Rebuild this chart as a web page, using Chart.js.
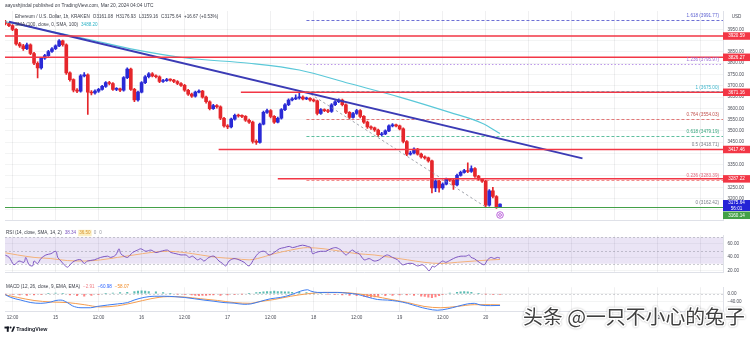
<!DOCTYPE html>
<html lang="en">
<head>
<meta charset="utf-8">
<title>Ethereum / U.S. Dollar, 1h, KRAKEN</title>
<script src="https://cdn.jsdelivr.net/npm/chart.js@4.4.1/dist/chart.umd.min.js"></script>
<style>
  html, body { margin: 0; padding: 0; background: #ffffff; }
  #stage { position: relative; width: 750px; height: 337px; overflow: hidden; background: #ffffff; }
  #stage canvas { position: absolute; left: 0; }
</style>
</head>
<body>
<div id="stage">
  <canvas id="pricePane" width="750" height="228" style="top:0px"></canvas>
  <canvas id="rsiPane" width="750" height="52" style="top:228px"></canvas>
  <canvas id="macdPane" width="750" height="57" style="top:280px"></canvas>
</div>
<script>
// ---------- hourly candles (hour index counted from Mar 14 00:00 UTC) ----------
const candleStartHour = 10;
const opens = [3984,3976,3967,3950,3886,3877,3864,3882,3843,3800,
  3779,3822,3834,3852,3864,3877,3899,3882,3757,3727,
  3680,3676,3744,3749,3672,3668,3676,3684,3697,3714,
  3710,3684,3686,3680,3736,3774,3684,3637,3672,3714,
  3740,3753,3744,3740,3719,3723,3727,3725,3719,3710,
  3702,3680,3663,3654,3672,3676,3650,3629,3599,3612,
  3607,3556,3522,3517,3552,3569,3566,3564,3547,3539,
  3453,3449,3530,3582,3590,3564,3539,3556,3594,3616,
  3637,3642,3646,3650,3642,3644,3637,3633,3577,3594,
  3590,3586,3616,3629,3637,3616,3582,3560,3577,3590,
  3564,3539,3517,3513,3504,3483,3487,3500,3522,3526,
  3522,3509,3453,3397,3402,3419,3397,3384,3380,3367,
  3247,3277,3247,3264,3286,3282,3260,3303,3316,3324,
  3320,3333,3299,3286,3277,3170,3234,3209,3161.08];
const highs = [3990,3980,3971,3954,3893,3884,3889,3886,3848,3806,
  3826,3840,3857,3869,3882,3905,3903,3886,3762,3731,
  3688,3750,3758,3753,3679,3682,3689,3702,3719,3720,
  3714,3692,3690,3741,3780,3778,3689,3677,3719,3745,
  3759,3758,3749,3744,3729,3733,3731,3729,3723,3714,
  3706,3684,3668,3677,3682,3680,3654,3633,3618,3617,
  3611,3560,3528,3557,3575,3574,3571,3568,3552,3543,
  3460,3535,3588,3597,3594,3568,3561,3599,3621,3642,
  3648,3660,3668,3655,3650,3648,3642,3637,3599,3598,
  3595,3621,3634,3642,3641,3620,3586,3582,3595,3594,
  3568,3543,3522,3517,3508,3494,3505,3527,3532,3530,
  3526,3513,3457,3409,3425,3423,3401,3389,3384,3371,
  3283,3281,3270,3291,3290,3286,3308,3322,3330,3358,
  3345,3337,3303,3290,3281,3240,3250,3213,3176.93];
const lows = [3970,3962,3944,3880,3870,3857,3860,3838,3794,3735,
  3774,3817,3830,3848,3860,3873,3876,3750,3720,3673,
  3669,3672,3739,3573,3660,3663,3671,3680,3693,3704,
  3679,3678,3674,3676,3731,3679,3630,3632,3668,3709,
  3735,3739,3735,3714,3715,3719,3720,3714,3705,3697,
  3675,3657,3648,3650,3668,3645,3623,3593,3595,3601,
  3550,3516,3510,3513,3548,3561,3559,3542,3533,3445,
  3440,3445,3526,3577,3558,3533,3535,3552,3590,3612,
  3633,3638,3641,3637,3638,3632,3628,3571,3573,3585,
  3581,3582,3612,3625,3611,3576,3554,3556,3573,3558,
  3533,3511,3507,3498,3477,3478,3483,3496,3518,3517,
  3504,3447,3390,3392,3398,3392,3379,3375,3361,3225,
  3230,3228,3240,3260,3276,3240,3256,3299,3312,3315,
  3316,3294,3281,3271,3162.42,3166,3203,3156.5,3159.16];
const closes = [3976,3967,3950,3886,3877,3864,3882,3843,3800,3779,
  3822,3834,3852,3864,3877,3899,3882,3757,3727,3680,
  3676,3744,3749,3672,3668,3676,3684,3697,3714,3710,
  3684,3686,3680,3736,3774,3684,3637,3672,3714,3740,
  3753,3744,3740,3719,3723,3727,3725,3719,3710,3702,
  3680,3663,3654,3672,3676,3650,3629,3599,3612,3607,
  3556,3522,3517,3552,3569,3566,3564,3547,3539,3453,
  3449,3530,3582,3590,3564,3539,3556,3594,3616,3637,
  3642,3646,3650,3642,3644,3637,3633,3577,3594,3590,
  3586,3616,3629,3637,3616,3582,3560,3577,3590,3564,
  3539,3517,3513,3504,3483,3487,3500,3522,3526,3522,
  3509,3453,3397,3402,3419,3397,3384,3380,3367,3247,
  3277,3247,3264,3286,3282,3260,3303,3316,3324,3320,
  3333,3299,3286,3277,3170,3234,3209,3158.97,3175.64];
const changeText = '+16.67 (+0.53%)';

// ---------- time axis ----------
const timeTicks  = [12,24,36,48,60,72,84,96,108,120,132,144,156,168,180,192,204];
const timeLabels = ['12:00','15','12:00','16','12:00','17','12:00','18','12:00','19','12:00','20','12:00','21','12:00','22','12:00'];

// ---------- price axis ----------
const priceTickValues = [3150,3200,3250,3300,3350,3400,3450,3500,3550,3600,3650,3700,3750,3800,3850,3900,3950];

// ---------- SMA 100 ----------
const smaHours  = [10, 24, 34, 45, 61, 78, 92, 106, 120, 134, 143, 148];
const smaValues = [3984, 3937, 3903, 3864, 3822, 3800, 3770, 3710, 3650, 3582, 3534, 3488.20];

// ---------- drawings ----------
const trendHours  = [11, 171];
const trendPrices = [3984, 3378];
const fibRatios = ['0', '0.236', '0.5', '0.618', '0.764', '1', '1.236', '1.618'];
const fibPrices = [3162.42, 3283.39, 3418.71, 3479.19, 3554.03, 3675.00, 3795.97, 3991.77];
const fibStartHour = 94;
const fibAnchorHours = [94, 144];
const levelPrices     = [3920.59, 3826.27, 3671.16, 3417.46, 3287.22];
const levelStartHours = [9.9, 9.9, 75.7, 69.5, 86];
const supportPrice = 3160.14;
const countdownText = '56:01';
const markerHour = 148;
const markerPrice = 3127;

// ---------- RSI (14) and its SMA ----------
const rsiHours = [10,11.1,12.4,13.8,15.2,15.7,16.6,17.6,18.0,19.0,
  19.9,21.3,22.7,24.1,24.6,25.5,26.4,27.3,27.8,28.7,
  30.1,31.1,32.0,32.9,34.8,36.6,38.5,39.4,40.8,41.7,
  42.2,43.1,44.1,45.5,46.9,47.8,49.2,50.6,52.0,53.4,
  55.2,56.2,57.6,59.0,60.4,61.3,62.2,63.6,64.5,65.4,
  66.8,68.2,69.6,70.6,71.5,72.4,73.8,75.2,76.6,78.0,
  79.4,80.8,82.2,83.6,85.0,86.4,87.8,89.2,90.1,91.5,
  92.9,94.3,95.2,95.7,96.6,98.0,99.4,100.8,102.2,103.6,
  105.0,105.9,106.8,107.8,108.7,110.1,111.5,112.9,114.3,115.7,
  116.6,118.0,119.4,120.8,122.2,123.6,125.0,126.3,127.3,128.2,
  129.2,129.6,131.0,132.0,132.9,134.3,135.7,137.1,138.5,139.4,
  139.9,140.8,142.2,143.6,144.5,145.5,146.4,147.3,148];
const rsiValues = [43,39.6,28.5,34.1,32.2,39.6,28.5,26.7,34.1,30.4,
  37.8,43.3,45.2,48.9,39.6,34.1,28.5,24.8,26.7,32.2,
  35.9,35.9,30.4,34.1,35.9,39.6,41.5,39.6,43.3,52.6,
  45.2,41.5,39.6,47,50.7,52.6,48.9,50.7,47,48.9,
  50.7,47,45.2,43.3,43.3,39.6,41.5,35.9,37.8,34.1,
  39.6,41.5,34.1,30.4,26.7,34.1,37.8,35.9,32.2,26.7,
  37.8,47,48.9,43.3,47,52.6,54.4,56.3,54.4,56.3,
  58.1,56.3,54.4,45.2,47,48.9,48.9,52.6,54.4,50.7,
  43.3,47,50.7,47,45.2,35.9,37.8,34.1,35.9,41.5,
  43.3,39.6,35.9,28.5,30.4,30.4,26.7,28.5,24.8,19.3,
  26.7,24.8,30.4,34.1,32.2,35.9,39.6,41.5,41.5,43.3,
  39.6,37.8,32.2,28.5,35.9,39.6,37.8,39.6,38.34];
const rsiMaHours  = [10,13.4,18.0,22.7,27.3,32.0,36.6,41.3,45.9,50.6,
  55.2,59.9,64.5,69.2,73.8,78.0,80.3,85.0,89.6,94.3,
  98.9,103.6,108.2,112.9,117.6,122.2,126.8,131.5,136.1,140.8,145.4,148];
const rsiMaValues = [46.5,43.3,39.6,37.8,34.8,34.1,35.9,39.6,43.3,47,
  48.9,47,43.3,39.6,37.8,35.9,37.8,45.2,50.7,54.4,
  52.6,48.9,45.2,43.3,39.6,35.9,32.2,30.4,32.2,34.1,35.9,36.5];
const rsiLevels = [70, 50, 30];
const rsiTickValues = [20, 40, 60];

// ---------- MACD (12, 26, 9) ----------
const macdHours = [10,11.5,14.3,17.1,19.9,22.7,24.1,25.5,27.3,28.7,
  31.1,33.8,35.7,38.5,41.3,44.1,45.9,48.7,51.5,54.3,
  57.1,59.9,62.7,65.4,68.2,71.0,73.8,76.6,78.5,81.3,
  84.0,86.8,89.6,92.4,94.3,95.2,97.1,99.9,102.7,105.4,
  108.2,111.0,113.8,116.6,119.4,122.2,125.0,127.8,130.5,133.3,
  136.1,138.9,140.8,142.6,145.4,148];
const macdValues = [-5,-19,-33,-46,-50,-43,-35,-33,-46,-63,
  -73,-73,-66,-59,-53,-46,-33,-19,-13,-13,
  -15,-19,-26,-33,-39,-46,-49,-55,-53,-39,
  -26,-19,-6,14,21,14,7,7,7,3,
  -3,-17,-30,-33,-39,-50,-66,-79,-86,-79,
  -66,-53,-50,-59,-62,-60.98];
const signalHours = [10,13.4,18.0,22.7,27.3,32.0,36.6,41.3,45.9,50.6,
  55.2,59.9,64.5,69.2,73.8,78.5,80.3,85.0,89.6,94.3,
  98.9,103.6,108.2,112.9,117.6,122.2,126.8,131.5,136.1,140.8,145.4,148];
const signalValues = [-6,-19,-35,-43,-46,-57,-69,-63,-46,-26,
  -15,-17,-26,-35,-46,-50,-43,-30,-13,0,
  7,7,0,-13,-30,-46,-66,-73,-66,-57,-57,-58.07];
const histHours = [10,12,14,16,18,20,22,24,26,28,30,32,34,36,38,40,42,44,46,
  47,48,49,50,52,54,56,58,60,62,63,64,65,66,67,68,70,72,74,76,78,80,
  81,82,83,84,85,86,87,88,89,90,92,94,96,98,100,102,104,106,108,110,
  111,112,113,114,116,118,120,122,124,126,127,128,129,130,131,132,134,136,
  137,138,139,140,142,144,146,148];
const histValues = [-1,-4,-6,-8,-6,-4,2,4,2,-6,-10,-12,-8,-4,2,4,6,8,12,
  14,16,14,12,10,6,2,-2,-4,-6,-8,-10,-8,-8,-6,-6,-8,-6,-4,-2,2,6,
  8,10,12,12,14,12,12,10,10,8,8,6,2,0,-2,-4,-6,-8,-10,-14,
  -16,-18,-16,-14,-10,-8,-6,-6,-8,-12,-14,-18,-20,-16,-10,-4,4,8,
  10,12,10,8,2,-2,-4,-2.91];
const macdTickValues = [0, -40];

// ---------- styling ----------
const FONT = "'Liberation Sans', Arial, sans-serif";
const TXT = '#3b3e48';
const AXIS_TXT = '#4a4d57';
const UP = '#2a2ad6';
const DOWN = '#e5262b';
const X_MIN = 9.9, X_MAX = 210.2;
const AXIS_W = 27;
const fibLineColors = ['#8c8f99', '#f08080', '#9aa0a8', '#4cb894', '#e06a6a', '#4dc3d8', '#b48be6', '#5c60d0'];
const fibTextColors = ['#787b86', '#e0667a', '#787b86', '#35a57d', '#c0504d', '#3bb5cc', '#9b6fd6', '#5b5fd0'];
const fibDash = [[3,2],[3,2],[3,2],[3,2],[3,2],[3,2],[1.5,2],[3,2]];

Chart.defaults.font.family = FONT;
Chart.defaults.font.size = 4.6;
Chart.defaults.color = AXIS_TXT;

const candleHours = closes.map((_, i) => candleStartHour + i);
const lastIdx = closes.length - 1;
const lastPrice = closes[lastIdx];
const boxPrices = levelPrices.concat([lastPrice, supportPrice]);

const fmt = v => (v < 0 ? '\u2212' : '') + Math.abs(v).toFixed(2);

function drawText(ctx, s, x, y, color, size, align, weight) {
  ctx.font = (weight || 'normal') + ' ' + size + 'px ' + FONT;
  ctx.fillStyle = color;
  ctx.textAlign = align || 'left';
  ctx.textBaseline = 'middle';
  ctx.fillText(s, x, y);
  return ctx.measureText(s).width;
}
function drawRun(ctx, parts, x, y, size, gap) {
  let cx = x;
  parts.forEach(p => {
    if (p.bg) {
      ctx.font = size + 'px ' + FONT;
      const w = ctx.measureText(p.t).width;
      ctx.fillStyle = p.bg;
      ctx.fillRect(cx - 1, y - 3.2, w + 2, 6.4);
    }
    cx += drawText(ctx, p.t, cx, y, p.c, size) + gap;
  });
}
function priceBox(ctx, left, top, h, fill, lines) {
  ctx.fillStyle = fill;
  ctx.fillRect(left, top, AXIS_W, h);
  lines.forEach((t, k) => drawText(ctx, t, left + AXIS_W / 2, top + (k + 0.5) * h / lines.length + 0.2, '#ffffff', 4.6, 'center'));
}

function timeScale(showLabels) {
  return {
    type: 'linear', min: X_MIN, max: X_MAX, offset: false,
    grid: { color: 'rgba(42,46,57,0.07)', drawTicks: false, offset: false },
    border: { display: true, color: '#dfe1e8' },
    ticks: {
      display: showLabels, autoSkip: false, maxRotation: 0, padding: 4,
      color: AXIS_TXT, font: { size: 4.6 },
      callback: v => { const i = timeTicks.indexOf(v); return i < 0 ? '' : timeLabels[i]; }
    },
    afterBuildTicks: s => { s.ticks = timeTicks.map(v => ({ value: v })); },
    afterFit: s => { s.height = showLabels ? 26 : 0; }
  };
}
function valueScale(min, max, tickValues, label) {
  return {
    type: 'linear', position: 'right', min: min, max: max,
    grid: { color: 'rgba(42,46,57,0.055)', drawTicks: false },
    border: { display: true, color: '#dfe1e8' },
    ticks: { padding: 4.5, crossAlign: 'near', color: AXIS_TXT, font: { size: 4.6 }, callback: label },
    afterBuildTicks: s => { s.ticks = tickValues.map(v => ({ value: v })); },
    afterFit: s => { s.width = AXIS_W; }
  };
}
const baseOptions = (layoutPad) => ({
  responsive: false, animation: false, devicePixelRatio: 1,
  layout: { padding: layoutPad },
  plugins: { legend: { display: false }, tooltip: { enabled: false } },
  events: []
});

// ---------- price pane ----------
const pricePlugin = {
  id: 'priceOverlays',
  beforeDatasetsDraw(chart) {
    const { ctx, chartArea: a, scales: { x, y } } = chart;
    ctx.save();
    ctx.beginPath(); ctx.rect(a.left, a.top, a.right - a.left, a.bottom - a.top); ctx.clip();
    fibPrices.forEach((p, i) => {
      const py = Math.round(y.getPixelForValue(p)) + 0.5;
      ctx.strokeStyle = fibLineColors[i];
      ctx.lineWidth = 0.9;
      ctx.setLineDash(fibDash[i]);
      ctx.beginPath(); ctx.moveTo(x.getPixelForValue(fibStartHour), py); ctx.lineTo(a.right, py); ctx.stroke();
    });
    ctx.restore();
  },
  afterDatasetsDraw(chart) {
    const { ctx, chartArea: a, scales: { x, y } } = chart;
    ctx.save();
    ctx.beginPath(); ctx.rect(a.left, a.top, a.right - a.left, a.bottom - a.top); ctx.clip();
    ctx.setLineDash([]);
    ctx.strokeStyle = '#f23645';
    ctx.lineWidth = 1.5;
    levelPrices.forEach((p, i) => {
      const py = y.getPixelForValue(p);
      ctx.beginPath(); ctx.moveTo(Math.max(a.left, x.getPixelForValue(levelStartHours[i])), py); ctx.lineTo(a.right, py); ctx.stroke();
    });
    const sy = y.getPixelForValue(supportPrice);
    ctx.strokeStyle = '#43a047'; ctx.lineWidth = 1.1;
    ctx.beginPath(); ctx.moveTo(a.left, sy); ctx.lineTo(a.right, sy); ctx.stroke();
    // event marker below the last bar
    const mx = x.getPixelForValue(markerHour), my = y.getPixelForValue(markerPrice);
    ctx.beginPath(); ctx.arc(mx, my, 3.3, 0, Math.PI * 2);
    ctx.fillStyle = '#ffffff'; ctx.fill();
    ctx.strokeStyle = '#b455d6'; ctx.lineWidth = 0.9; ctx.stroke();
    ctx.beginPath(); ctx.arc(mx, my, 1.4, 0, Math.PI * 2); ctx.stroke();
    ctx.restore();
  },
  afterDraw(chart) {
    const { ctx, chartArea: a, scales: { y } } = chart;
    ctx.save();
    drawText(ctx, 'aayushjindal published on TradingView.com, Mar 20, 2024 04:04 UTC', 5, 5.5, TXT, 4.8);
    drawRun(ctx, [
      { t: 'Ethereum / U.S. Dollar, 1h, KRAKEN', c: TXT },
      { t: 'O' + opens[lastIdx].toFixed(2), c: TXT },
      { t: 'H' + highs[lastIdx].toFixed(2), c: TXT },
      { t: 'L' + lows[lastIdx].toFixed(2), c: TXT },
      { t: 'C' + closes[lastIdx].toFixed(2), c: TXT },
      { t: changeText, c: TXT }
    ], 15, 16.5, 4.6, 3);
    drawRun(ctx, [
      { t: 'SMA (100, close, 0, SMA, 100)', c: TXT },
      { t: smaValues[smaValues.length - 1].toFixed(2), c: '#2fb3c6' }
    ], 15, 24.5, 4.6, 3);
    // fib level captions
    fibPrices.forEach((p, i) => {
      drawText(ctx, fibRatios[i] + ' (' + p.toFixed(2) + ')', a.right - 4, y.getPixelForValue(p) - 4, fibTextColors[i], 4.6, 'right');
    });
    // axis header and price tags
    drawText(ctx, 'USD', a.right + AXIS_W / 2, 17, AXIS_TXT, 4.6, 'center');
    levelPrices.forEach(p => priceBox(ctx, a.right, y.getPixelForValue(p) - 3.75, 7.5, '#f23645', [p.toFixed(2)]));
    const by = y.getPixelForValue(lastPrice) - 4;
    priceBox(ctx, a.right, by, 11, '#2424d6', [lastPrice.toFixed(2), countdownText]);
    priceBox(ctx, a.right, by + 11.5, 7.5, '#43a047', [supportPrice.toFixed(2)]);
    ctx.restore();
  }
};

new Chart(document.getElementById('pricePane'), {
  type: 'bar',
  data: {
    datasets: [
      {
        type: 'line', label: 'Trend', order: 0,
        data: trendHours.map((h, i) => ({ x: h, y: trendPrices[i] })),
        borderColor: '#3b3bb5', borderWidth: 2, pointRadius: 0
      },
      {
        type: 'line', label: 'SMA 100', order: 1,
        data: smaHours.map((h, i) => ({ x: h, y: smaValues[i] })),
        borderColor: '#5ac8d8', borderWidth: 1.2, pointRadius: 0, cubicInterpolationMode: 'monotone'
      },
      {
        type: 'line', label: 'Fib trend', order: 1,
        data: [{ x: fibAnchorHours[0], y: fibPrices[5] }, { x: fibAnchorHours[1], y: fibPrices[0] }],
        borderColor: '#8c8f99', borderWidth: 0.8, borderDash: [2.5, 2.5], pointRadius: 0
      },
      {
        label: 'Bodies', order: 2, grouped: false, barThickness: 3, minBarLength: 1,
        data: candleHours.map((h, i) => ({ x: h, y: [opens[i], closes[i]] })),
        backgroundColor: c => closes[c.dataIndex] >= opens[c.dataIndex] ? UP : DOWN
      },
      {
        label: 'Wicks', order: 3, grouped: false, barThickness: 1,
        data: candleHours.map((h, i) => ({ x: h, y: [lows[i], highs[i]] })),
        backgroundColor: c => closes[c.dataIndex] >= opens[c.dataIndex] ? UP : DOWN
      }
    ]
  },
  options: Object.assign(baseOptions({ left: 5, right: 0, top: 11, bottom: 0 }), {
    scales: {
      x: timeScale(false),
      y: valueScale(3101.5, 4031.6, priceTickValues,
        v => boxPrices.some(b => Math.abs(v - b) < 21) ? '' : v.toFixed(2))
    }
  }),
  plugins: [pricePlugin]
});

// ---------- RSI pane ----------
const rsiPlugin = {
  id: 'rsiOverlays',
  beforeDatasetsDraw(chart) {
    const { ctx, chartArea: a, scales: { y } } = chart;
    ctx.save();
    const top = y.getPixelForValue(rsiLevels[0]), bot = y.getPixelForValue(rsiLevels[2]);
    ctx.fillStyle = 'rgba(126,87,194,0.16)';
    ctx.fillRect(a.left, top, a.right - a.left, bot - top);
    ctx.strokeStyle = 'rgba(120,123,134,0.55)';
    ctx.lineWidth = 0.7;
    ctx.setLineDash([2, 2]);
    rsiLevels.forEach(l => {
      const py = Math.round(y.getPixelForValue(l)) + 0.5;
      ctx.beginPath(); ctx.moveTo(a.left, py); ctx.lineTo(a.right, py); ctx.stroke();
    });
    ctx.restore();
  },
  afterDraw(chart) {
    const { ctx } = chart;
    ctx.save();
    drawRun(ctx, [
      { t: 'RSI (14, close, SMA, 14, 2)', c: TXT },
      { t: rsiValues[rsiValues.length - 1].toFixed(2), c: '#7e57c2' },
      { t: rsiMaValues[rsiMaValues.length - 1].toFixed(2), c: '#d9962e', bg: '#fbefc4' },
      { t: '0', c: '#9598a1' },
      { t: '0', c: '#9598a1' }
    ], 6, 5, 4.6, 3);
    ctx.restore();
  }
};

new Chart(document.getElementById('rsiPane'), {
  type: 'line',
  data: {
    datasets: [
      {
        label: 'RSI', data: rsiHours.map((h, i) => ({ x: h, y: rsiValues[i] })),
        borderColor: '#7e57c2', borderWidth: 1, pointRadius: 0, tension: 0.3
      },
      {
        label: 'RSI MA', data: rsiMaHours.map((h, i) => ({ x: h, y: rsiMaValues[i] })),
        borderColor: '#f4b27a', borderWidth: 1, pointRadius: 0, cubicInterpolationMode: 'monotone'
      }
    ]
  },
  options: Object.assign(baseOptions({ left: 5, right: 0, top: 0, bottom: 0 }), {
    scales: {
      x: timeScale(false),
      y: valueScale(16.4, 73.1, rsiTickValues, v => v.toFixed(2))
    }
  }),
  plugins: [rsiPlugin]
});

// ---------- MACD pane with the time axis ----------
const macdPlugin = {
  id: 'macdOverlays',
  beforeDatasetsDraw(chart) {
    const { ctx, chartArea: a, scales: { y } } = chart;
    ctx.save();
    const py = Math.round(y.getPixelForValue(0)) + 0.5;
    ctx.strokeStyle = 'rgba(120,123,134,0.45)';
    ctx.lineWidth = 0.7;
    ctx.setLineDash([2, 2]);
    ctx.beginPath(); ctx.moveTo(a.left, py); ctx.lineTo(a.right, py); ctx.stroke();
    ctx.restore();
  },
  afterDraw(chart) {
    const { ctx } = chart;
    ctx.save();
    drawRun(ctx, [
      { t: 'MACD (12, 26, close, 9, EMA, EMA)', c: TXT },
      { t: fmt(histValues[histValues.length - 1]), c: '#ef7f86' },
      { t: fmt(macdValues[macdValues.length - 1]), c: '#2962ff' },
      { t: fmt(signalValues[signalValues.length - 1]), c: '#f08a24' }
    ], 6, 7, 4.6, 3);

    // TradingView mark
    ctx.fillStyle = '#131722';
    ctx.fillRect(4.5, 46.6, 4.6, 1.9);
    ctx.fillRect(6.8, 46.6, 1.9, 5.2);
    ctx.beginPath(); ctx.arc(10.6, 47.5, 0.95, 0, Math.PI * 2); ctx.fill();
    ctx.beginPath(); ctx.moveTo(11.2, 51.8); ctx.lineTo(13.4, 46.6); ctx.lineTo(15.2, 46.6); ctx.lineTo(13.0, 51.8); ctx.closePath(); ctx.fill();
    drawText(ctx, 'TradingView', 16.2, 49.3, '#131722', 5.3, 'left', '600');

    // publisher watermark
    const mark = '头条 @一只不小心的兔子';
    ctx.font = "400 20px 'Noto Sans CJK SC', sans-serif";
    const w = ctx.measureText(mark).width;
    const size = 20 * 222 / w;
    ctx.font = "400 " + size + "px 'Noto Sans CJK SC', sans-serif";
    ctx.textAlign = 'left';
    ctx.textBaseline = 'middle';
    ctx.lineJoin = 'round';
    ctx.shadowColor = 'rgba(0,0,0,0.3)';
    ctx.shadowBlur = 2;
    ctx.strokeStyle = '#ffffff';
    ctx.lineWidth = 3;
    ctx.strokeText(mark, 523, 36);
    ctx.shadowBlur = 0;
    ctx.shadowColor = 'transparent';
    ctx.fillStyle = '#3f3f3f';
    ctx.fillText(mark, 523, 36);
    ctx.restore();
  }
};

new Chart(document.getElementById('macdPane'), {
  type: 'bar',
  data: {
    datasets: [
      {
        type: 'line', label: 'MACD', order: 0,
        data: macdHours.map((h, i) => ({ x: h, y: macdValues[i] })),
        borderColor: '#3d7cf0', borderWidth: 1, pointRadius: 0, cubicInterpolationMode: 'monotone'
      },
      {
        type: 'line', label: 'Signal', order: 1,
        data: signalHours.map((h, i) => ({ x: h, y: signalValues[i] })),
        borderColor: '#f59d4f', borderWidth: 1, pointRadius: 0, cubicInterpolationMode: 'monotone'
      },
      {
        label: 'Histogram', order: 2, barThickness: 1.4, grouped: false,
        data: histHours.map((h, i) => ({ x: h, y: histValues[i] })),
        backgroundColor: c => histValues[c.dataIndex] >= 0 ? 'rgba(38,166,154,0.75)' : 'rgba(255,82,82,0.7)'
      }
    ]
  },
  options: Object.assign(baseOptions({ left: 5, right: 0, top: 0, bottom: 0 }), {
    scales: {
      x: timeScale(true),
      y: valueScale(-90, 34, macdTickValues, v => fmt(v))
    }
  }),
  plugins: [macdPlugin]
});
</script>
</body>
</html>
